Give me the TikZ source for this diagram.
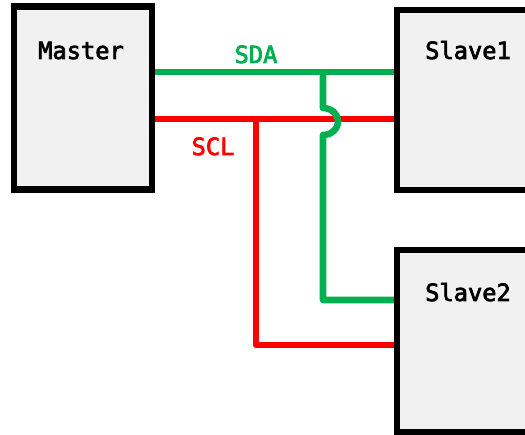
\documentclass[tikz,border=0pt]{standalone}
\usepackage{fontspec}
\setmonofont[FakeBold=3]{DejaVu Sans Mono}
\tikzset{
  chip/.style={draw=black,line width=6.8pt,fill=boxgray,rectangle,inner sep=0pt,outer sep=0pt},
  chiplabel/.style={font=\ttfamily\fontsize{23.7}{24}\selectfont,text=black,inner sep=0pt,anchor=base},
  buslabel/.style={font=\ttfamily\fontsize{23.7}{24}\selectfont,inner sep=0pt,anchor=base},
  sda/.style={draw=sdagreen,line width=6.6pt,line join=round},
  scl/.style={draw=sclred,line width=6.6pt,line join=round}
}
\definecolor{boxgray}{HTML}{F1F1F1}
\definecolor{sdagreen}{HTML}{00B050}
\definecolor{sclred}{HTML}{FF0000}
\begin{document}
\begin{tikzpicture}[x=1pt,y=-1pt]
\useasboundingbox (0,0) rectangle (525,435);
\clip (0,0) rectangle (525,435);
\coordinate (mSda) at (152,72);
\coordinate (aSda) at (396,72);
\coordinate (mScl) at (152,119);
\coordinate (aScl) at (396,119);
\coordinate (tap) at (323,72);
\coordinate (hopA) at (323,108);
\coordinate (hopB) at (323,135);
\coordinate (bendG) at (323,300);
\coordinate (bSda) at (396,300);
\coordinate (tapR) at (256,119);
\coordinate (bendR) at (256,345);
\coordinate (bScl) at (396,345);
\draw[scl] (mScl) -- (aScl);
\draw[scl] (tapR) -- (bendR) -- (bScl);
\draw[sda] (mSda) -- (aSda);
\draw[sda] (tap) -- (hopA) arc[start angle=-90,end angle=90,x radius=15,y radius=13.5] -- (bendG) -- (bSda);
\node[chip,minimum width=138pt,minimum height=183pt] (master) at (83,98) {};
\node[chip,minimum width=160pt,minimum height=180pt,anchor=north west] (slaveA) at (397,10) {};
\node[chip,minimum width=160pt,minimum height=182pt,anchor=north west] (slaveB) at (397,250) {};
\node[chiplabel] (masterT) at (81,59) {Master};
\node[chiplabel] (slaveAT) at (468,59) {Slave1};
\node[chiplabel] (slaveBT) at (468,301) {Slave2};
\node[buslabel,text=sdagreen] (sdaT) at (256,63) {SDA};
\node[buslabel,text=sclred] (sclT) at (213,155) {SCL};
\end{tikzpicture}
\end{document}
